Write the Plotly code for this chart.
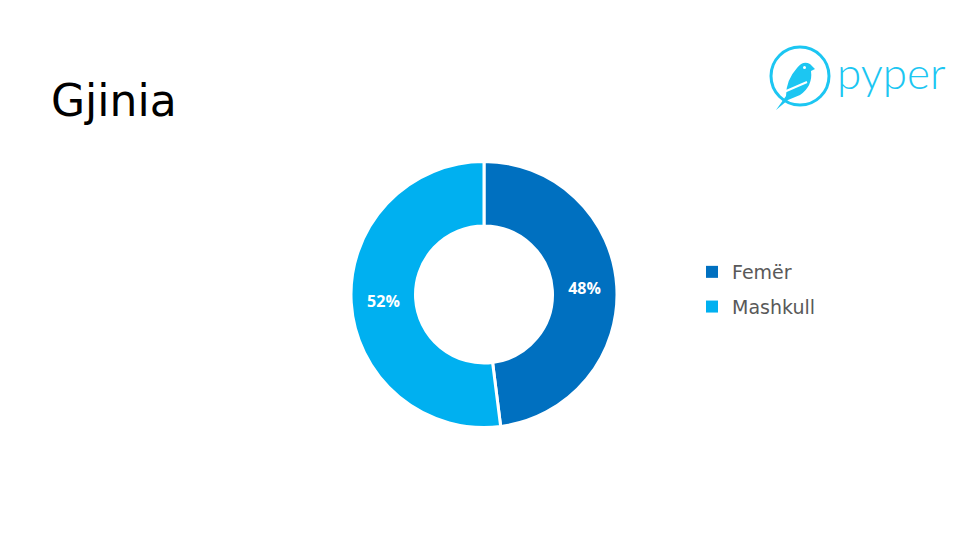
import plotly.graph_objects as go

labels = ["Femër", "Mashkull"]
values = [48, 52]
colors = ["#0070C0", "#00B0F0"]

W, H = 980, 551
cx, cy, r = 484, 294.5, 133
LOGO = "#1CC6F2"

def px(x):
    return x / W

def py(y):
    return 1 - y / H

fig = go.Figure()
fig.add_trace(go.Pie(
    labels=labels, values=values, hole=0.515, sort=False, direction="clockwise", rotation=0,
    marker=dict(colors=colors, line=dict(color="white", width=3)),
    texttemplate="%{percent:.0%}", textposition="inside", insidetextorientation="horizontal",
    textfont=dict(family="Open Sans, Arial", size=16, color="white", weight="bold"),
    hoverinfo="label+percent", showlegend=False,
    domain=dict(x=[px(cx - r), px(cx + r)], y=[py(cy + r), py(cy - r)]),
))

# legend entries (same categories / colours as the pie)
for lab, col in zip(labels, colors):
    fig.add_trace(go.Scatter(
        x=[None], y=[None], mode="markers", name=lab, legendgroup=lab,
        marker=dict(symbol="square", size=9, color=col),
        showlegend=True, hoverinfo="skip",
    ))

bird = (f"M {px(776)} {py(110)} L {px(786)} {py(96)} "
        f"Q {px(786)} {py(80)} {px(797)} {py(68)} "
        f"Q {px(803)} {py(60)} {px(810)} {py(64)} "
        f"L {px(815)} {py(69)} L {px(811)} {py(71)} "
        f"Q {px(813)} {py(86)} {px(800)} {py(95)} "
        f"L {px(788)} {py(100)} Z")

fig.update_layout(
    width=W, height=H, margin=dict(l=0, r=0, t=0, b=0),
    paper_bgcolor="white", plot_bgcolor="white",
    xaxis=dict(visible=False), yaxis=dict(visible=False),
    showlegend=True,
    legend=dict(x=px(692), y=py(253), xanchor="left", yanchor="top",
                font=dict(family="DejaVu Sans, Lato", size=19, color="#595959"),
                itemsizing="constant", tracegroupgap=7, bgcolor="rgba(0,0,0,0)"),
    annotations=[
        dict(text="Gjinia", x=px(49), y=py(100), xref="paper", yref="paper",
             xanchor="left", yanchor="middle", showarrow=False,
             font=dict(family="DejaVu Sans, Lato", size=44, color="#000000")),
        dict(text="pyper", x=px(835), y=py(72), xref="paper", yref="paper",
             xanchor="left", yanchor="middle", showarrow=False,
             font=dict(family="Lato, Open Sans", size=44, color=LOGO, weight=300)),
    ],
    shapes=[
        dict(type="circle", xref="paper", yref="paper",
             x0=px(771), x1=px(829), y0=py(105), y1=py(47),
             line=dict(color=LOGO, width=3)),
        dict(type="path", xref="paper", yref="paper", path=bird,
             fillcolor=LOGO, line=dict(width=0)),
        dict(type="line", xref="paper", yref="paper",
             x0=px(784), y0=py(92), x1=px(807), y1=py(82),
             line=dict(color="white", width=2)),
        dict(type="circle", xref="paper", yref="paper",
             x0=px(803), x1=px(806), y0=py(69), y1=py(66),
             fillcolor="white", line=dict(width=0)),
    ],
)

fig.write_html("out.html", config={"displayModeBar": False},
               post_script="document.body.style.margin='0';")
